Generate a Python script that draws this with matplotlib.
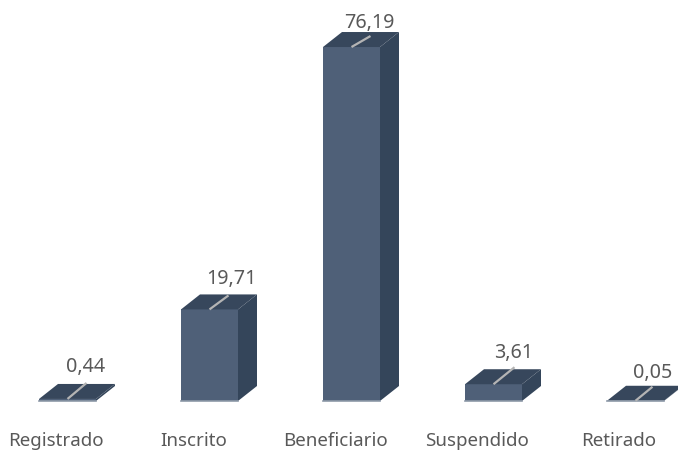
import matplotlib
matplotlib.use('Agg')
import matplotlib.pyplot as plt
from matplotlib.patches import Polygon

categories = ['Registrado', 'Inscrito', 'Beneficiario', 'Suspendido', 'Retirado']
values = [0.44, 19.71, 76.19, 3.61, 0.05]
value_labels = ['0,44', '19,71', '76,19', '3,61', '0,05']

FRONT = '#4f6078'
TOP = '#37475c'
SIDE = '#34455a'
TEXT = '#595959'

W, H = 678, 450
BASE = 401      # pixel row of the floor
PX_X = 142.0    # pixels per category
PX_Y = 4.646    # pixels per percent
DX, DY = 19 / PX_X, 15 / PX_Y   # depth of the 3D box, in data units
BAR = 57 / PX_X

# hand placed offsets in pixels, from the front top centre of each bar
leader_x = [19, 19, 19, 21, 17]
leader_y = [16, 14, 11, 17, 14]
label_x = [18, 22, 18, 20, 17]
label_y = [32, 30, 24, 31, 28]
cat_x = [-12, -16, -16, -17, -17]

fig = plt.figure(figsize=(W / 100, H / 100), dpi=100)
ax = fig.add_axes([0, (H - BASE) / H, 1, BASE / H])
ax.set_xlim(-67.5 / PX_X, (W - 67.5) / PX_X)
ax.set_ylim(0, BASE / PX_Y)
ax.axis('off')

ax.bar(range(len(values)), values, BAR, color=FRONT, linewidth=0, zorder=2)

for i, v in enumerate(values):
    l, r = i - BAR / 2, i + BAR / 2
    # top and side faces
    ax.add_patch(Polygon([(l, v), (r, v), (r + DX, v + DY), (l + DX, v + DY)],
                         facecolor=TOP, edgecolor='none', zorder=3, clip_on=False))
    ax.add_patch(Polygon([(r, 0), (r + DX, DY), (r + DX, v + DY), (r, v)],
                         facecolor=SIDE, edgecolor='none', zorder=1, clip_on=False))
    # light line along the bottom of the front
    ax.plot([l, r], [0, 0], color='#8d99a8', lw=1.2, zorder=4, clip_on=False)
    # leader line to the label
    ax.plot([i, i + leader_x[i] / PX_X], [v, v + leader_y[i] / PX_Y],
            color='#b4b4b4', lw=1.6, zorder=5, solid_capstyle='butt', clip_on=False)
    ax.annotate(value_labels[i], (i, v), xytext=(label_x[i], label_y[i]),
                textcoords='offset pixels', ha='center', va='center',
                color=TEXT, fontsize=14.2, family='Noto Sans', annotation_clip=False)
    ax.annotate(categories[i], (i, 0), xytext=(cat_x[i], -40),
                textcoords='offset pixels', ha='center', va='center',
                color=TEXT, fontsize=13.5, family='Noto Sans',
                annotation_clip=False)

fig.savefig('out.png', dpi=100, facecolor='white')
